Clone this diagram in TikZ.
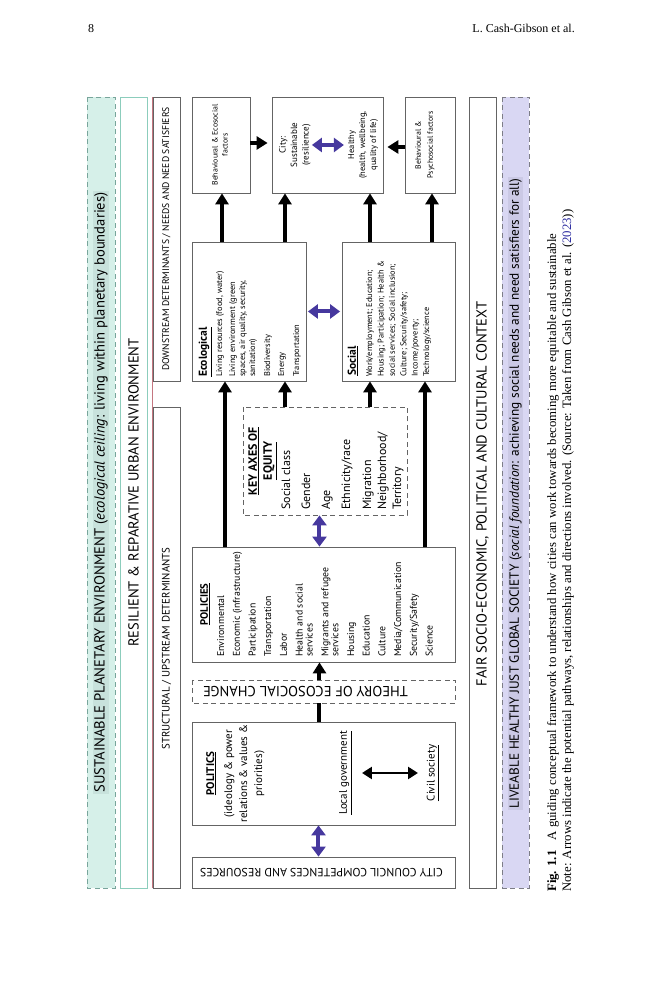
\documentclass[tikz,border=0pt]{standalone}
\usepackage{fontspec}
\setmainfont{Liberation Serif}
\newfontfamily\figfont{PT Sans}
\usetikzlibrary{arrows.meta}

\definecolor{sustfill}{RGB}{214,240,233}
\definecolor{sustmark}{RGB}{200,226,220}
\definecolor{sustline}{RGB}{120,165,155}
\definecolor{resline}{RGB}{140,205,188}
\definecolor{detline}{RGB}{196,118,128}
\definecolor{livefill}{RGB}{217,215,243}
\definecolor{livemark}{RGB}{203,201,229}
\definecolor{liveline}{RGB}{125,125,135}
\definecolor{boxline}{RGB}{100,100,100}
\definecolor{eqpurple}{RGB}{70,56,158}
\definecolor{citeblue}{RGB}{45,45,160}

\newcommand{\figsize}[2]{\fontsize{#1}{#2}\selectfont}

\tikzstyle{bx}=[draw=boxline,line width=0.8pt,inner sep=0pt]
\tikzstyle{dbx}=[bx,dash pattern=on 5pt off 3.5pt]
\tikzstyle{band}=[bx,minimum width=791pt,minimum height=27pt]
\tikzstyle{lbl}=[inner sep=0pt,align=center,font=\figfont]
\tikzstyle{lst}=[inner sep=0pt,align=left,font=\figfont]
\tikzstyle{arr}=[line width=4pt,-{Triangle[width=13pt,length=11pt]}]
\tikzstyle{dblarr}=[line width=2.6pt,{Triangle[width=12pt,length=10pt]}-{Triangle[width=12pt,length=10pt]}]
\tikzstyle{parr}=[eqpurple,line width=4pt,{Triangle[width=14pt,length=10pt]}-{Triangle[width=14pt,length=10pt]}]

\begin{document}
\begin{tikzpicture}[x=1pt,y=1pt,rotate=90,transform shape]
\useasboundingbox (-112,-130) rectangle (888,529);
% page header
\node[rotate=-90,anchor=base west,inner sep=0pt,font=\figsize{12}{14}] (pgno) at (855,441) {8};
\node[rotate=-90,anchor=base east,inner sep=0pt,font=\figsize{12}{14}] (runhead) at (855,-46) {L. Cash-Gibson et al.};

% outer bands
\node[band,draw=sustline,dash pattern=on 5pt off 3.5pt,fill=sustfill,minimum height=28pt] (sust) at (395.5,428) {};
\node[lbl,fill=sustmark,inner sep=1.5pt,font=\figfont\figsize{14.6}{16}] (susttxt) at (sust) {SUSTAINABLE PLANETARY ENVIRONMENT (\textit{ecological ceiling}: living within planetary boundaries)};
\node[band,draw=resline] (res) at (395.5,395.5) {};
\node[lbl,font=\figfont\figsize{14.5}{16}] (restxt) at (res) {RESILIENT \& REPARATIVE URBAN ENVIRONMENT};
\node[bx,minimum width=481pt,minimum height=27pt] (struct) at (240.5,362.5) {};
\node[lbl,font=\figfont\figsize{10.8}{12}] (structtxt) at (239.5,362.5) {STRUCTURAL / UPSTREAM DETERMINANTS};
\node[bx,minimum width=284pt,minimum height=27pt] (down) at (649,362.5) {};
\node[lbl,font=\figfont\figsize{9.6}{12}] (downtxt) at (down) {DOWNSTREAM DETERMINANTS / NEEDS AND NEED SATISFIERS};
\draw[detline,line width=0.8pt] (struct.north west) -- (down.north east);
\node[band] (fair) at (395.5,46.5) {};
\node[lbl,font=\figfont\figsize{14.5}{16}] (fairtxt) at (394,46.5) {FAIR SOCIO-ECONOMIC, POLITICAL AND CULTURAL CONTEXT};
\node[band,draw=liveline,dash pattern=on 5pt off 3.5pt,fill=livefill] (live) at (395.5,13.5) {};
\node[lbl,fill=livemark,inner sep=1.5pt,font=\figfont\figsize{13.3}{15}] (livetxt) at (394.5,13.5) {LIVEABLE HEALTHY JUST GLOBAL SOCIETY (\textit{social foundation}: achieving social needs and need satisfiers for all)};

% upstream side
\node[bx,minimum width=31pt,minimum height=263pt] (council) at (15.5,205.5) {};
\node[lbl,rotate=90,font=\figfont\figsize{11.8}{13}] (counciltxt) at (15.5,207.5) {CITY COUNCIL COMPETENCES AND RESOURCES};
\node[bx,minimum width=103pt,minimum height=263pt] (politics) at (114.5,205.5) {};
\node[lbl,anchor=north,font=\figfont\figsize{11}{15}] (poltxt) at (114.5,323) {\textbf{\underline{POLITICS}}\\[3pt](ideology \& power\\relations \& values \&\\priorities)};
\node[lbl,anchor=base,font=\figfont\figsize{11}{13}] (locgov) at (115,182) {\underline{Local government}};
\node[lbl,anchor=base,font=\figfont\figsize{11}{13}] (civsoc) at (115,94.5) {\underline{Civil society}};
\node[dbx,minimum width=23pt,minimum height=263pt] (theory) at (196.5,205.5) {};
\node[lbl,rotate=90,font=\figfont\figsize{14.5}{16}] (theorytxt) at (196.5,223.5) {THEORY OF ECOSOCIAL CHANGE};
\node[bx,minimum width=115pt,minimum height=263pt] (policies) at (283.5,205.5) {};
\node[lbl,anchor=base,font=\figfont\bfseries\figsize{10.7}{12}] (poltitle) at (283.5,321) {\underline{POLICIES}};
\node[lst,anchor=north west,font=\figfont\figsize{9.8}{10}] (pollist) at (231,312) {Environmental\\[5.7pt]Economic (infrastructure)\\[5.7pt]Participation\\[5.7pt]Transportation\\[5.7pt]Labor\\[5.7pt]Health and social\\services\\[5.7pt]Migrants and refugee\\services\\[5.7pt]Housing\\[5.7pt]Education\\[5.7pt]Culture\\[5.7pt]Media/Communication\\[5.7pt]Security/Safety\\[5.7pt]Science};
\node[dbx,minimum width=108pt,minimum height=164pt] (keyaxes) at (427,204) {};
\node[lbl,anchor=north,font=\figfont\bfseries\figsize{12}{15}] (keytitle) at (427,281) {\underline{KEY AXES OF}\\\underline{EQUITY}};
\node[lst,anchor=north west,font=\figfont\figsize{12}{15}] (keylist) at (378,247.5) {Social class\\[5pt]Gender\\[5pt]Age\\[5pt]Ethnicity/race\\[6pt]Migration\\Neighborhood/\\Territory};

% downstream side
\node[bx,minimum width=139pt,minimum height=114pt] (eco) at (576.5,280) {};
\node[lst,anchor=base west,font=\figfont\bfseries\figsize{11.5}{12}] (ecotitle) at (511,322) {\underline{Ecological}};
\node[lst,anchor=north west,font=\figfont\figsize{8.4}{10}] (ecolist) at (511,313) {Living resources (food, water)\\[3pt]Living environment (green\\spaces, air quality, security,\\sanitation)\\[5pt]Biodiversity\\[4pt]Energy\\[5pt]Transportation};
\node[bx,minimum width=139pt,minimum height=113pt] (soc) at (576.5,130.5) {};
\node[lst,anchor=base west,font=\figfont\bfseries\figsize{11.5}{12}] (soctitle) at (512,173) {\underline{Social}};
\node[lst,anchor=north west,font=\figfont\figsize{8.3}{11.4}] (soclist) at (511,163) {Work/employment; Education;\\Housing; Participation; Health \&\\social services; Social inclusion;\\Culture; Security/safety;\\Income/poverty;\\Technology/science};
\node[bx,minimum width=96pt,minimum height=58pt] (beheco) at (743,308) {};
\node[lbl,font=\figfont\figsize{7.8}{10}] (behecotxt) at (743,309) {Behavioural \& Ecosocial\\factors};
\node[bx,minimum width=96pt,minimum height=111pt] (city) at (743,201.5) {};
\node[lbl,font=\figfont\figsize{9}{11.5}] (citytxt) at (743,234) {City:\\Sustainable\\(resilience)};
\node[lbl,font=\figfont\figsize{8.5}{11}] (healthtxt) at (743,166) {Healthy\\(health, wellbeing,\\quality of life)};
\node[bx,minimum width=96pt,minimum height=50pt] (behpsy) at (743,99) {};
\node[lbl,font=\figfont\figsize{7.8}{12}] (behpsytxt) at (743,104) {Behavioural \&\\Psychosocial factors};

% arrows
\draw[parr] ([yshift=5pt]council.east) -- ([yshift=5pt]politics.west);
\draw[dblarr,shorten <=2pt,shorten >=2pt] ([yshift=-13pt]locgov.base) -- ([yshift=14.5pt]civsoc.base);
\draw[line width=4pt] ([yshift=4pt]politics.east) -- ([yshift=4pt]theory.west);
\draw[arr] ([yshift=4pt]theory.east) -- ([yshift=4pt]policies.west);
\draw[parr] ([yshift=4pt]policies.east) -- ([yshift=5.5pt]keyaxes.west);
\draw[arr] ([yshift=98.5pt]policies.east) -- ([yshift=24pt]eco.west);
\draw[arr] ([yshift=-101.5pt]policies.east) -- ([yshift=-26.5pt]soc.west);
\draw[arr] ([yshift=40pt]keyaxes.east) -- ([yshift=-36pt]eco.west);
\draw[arr] ([yshift=-45pt]keyaxes.east) -- ([yshift=28.5pt]soc.west);
\draw[parr,shorten <=1.5pt,shorten >=1.5pt] (eco.south) -- (soc.north);
\draw[arr] ([yshift=27pt]eco.east) -- ([yshift=-1pt]beheco.west);
\draw[arr] ([yshift=-36pt]eco.east) -- ([yshift=42.5pt]city.west);
\draw[arr] ([yshift=28.5pt]soc.east) -- ([yshift=-42.5pt]city.west);
\draw[arr] ([yshift=-33.5pt]soc.east) -- ([yshift=-2pt]behpsy.west);
\draw[arr,shorten >=4pt] ([xshift=2pt]beheco.south) -- ([xshift=2pt]city.north);
\draw[arr,shorten >=4pt] ([xshift=-2pt]behpsy.north) -- ([xshift=-2pt]city.south);
\draw[parr,shorten <=1pt,shorten >=4pt] (citytxt.south) -- (healthtxt.north);

% caption
\node[anchor=base west,inner sep=0pt,font=\figsize{12.8}{15}] (cap1) at (-4,-27) {\textbf{Fig. 1.1}\hspace{0.8em}A guiding conceptual framework to understand how cities can work towards becoming more equitable and sustainable};
\node[anchor=base west,inner sep=0pt,font=\figsize{12.8}{15}] (cap2) at (-4,-42) {Note: Arrows indicate the potential pathways, relationships and directions involved. (Source: Taken from Cash Gibson et al. (\textcolor{citeblue}{2023}))};
\end{tikzpicture}
\end{document}
